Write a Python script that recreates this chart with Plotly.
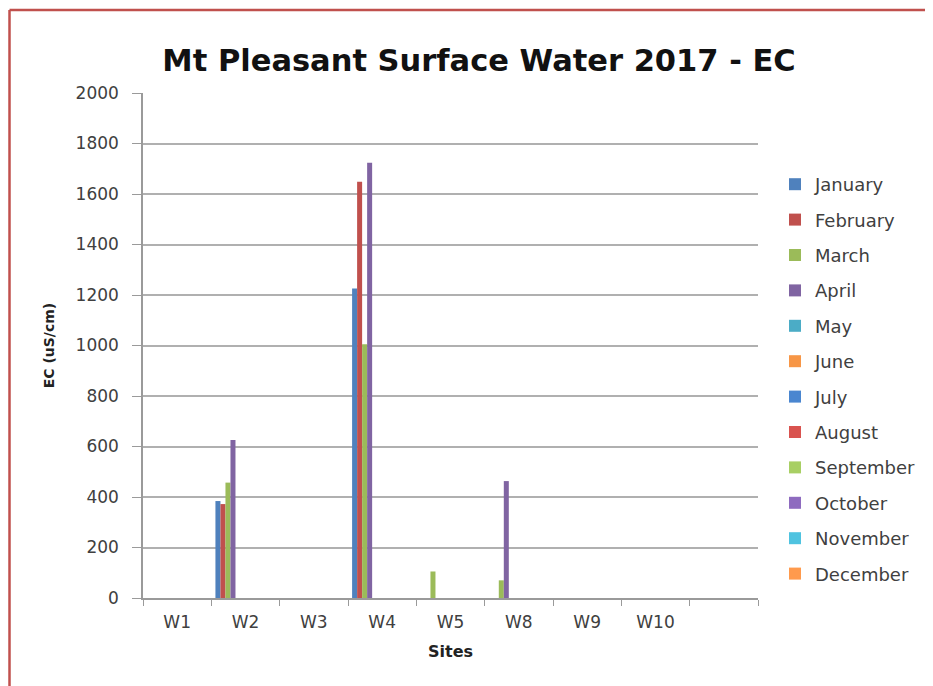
import plotly.graph_objects as go

sites = ["W1", "W2", "W3", "W4", "W5", "W8", "W9", "W10", " "]
months = ["January", "February", "March", "April", "May", "June", "July",
          "August", "September", "October", "November", "December"]
colors = ["#4F81BD", "#C0504D", "#9BBB59", "#8064A2", "#4BACC6", "#F79646",
          "#4A86D0", "#D9534F", "#A8CF64", "#8E6BBF", "#4FC3E0", "#FF9A4D"]

N = None
january  = [N, 384, N, 1226, N, N, N, N, N]
february = [N, 372, N, 1649, N, N, N, N, N]
march    = [N, 457, N, 1005, 105, 70, N, N, N]
april    = [N, 626, N, 1724, N, 463, N, N, N]
empty    = [N] * 9
series = [january, february, march, april] + [empty] * 8

fig = go.Figure()
for i, (m, vals) in enumerate(zip(months, series)):
    fig.add_trace(go.Bar(x=sites, y=vals, name=m, marker_color=colors[i],
                         marker_line_width=0, legendgroup=m))

FONT = "DejaVu Sans, sans-serif"
axis_font = dict(family=FONT, size=17, color="#404040")
W, H = 925, 678
L, R, T, B = 135, 175, 85, 88
pw, ph = W - L - R, H - T - B
fig.update_layout(
    width=W, height=H,
    margin=dict(l=L, r=R, t=T, b=B),
    paper_bgcolor="white", plot_bgcolor="white",
    barmode="group", bargap=0.12, bargroupgap=0,
    title=dict(text="<b>Mt Pleasant Surface Water 2017 - EC</b>",
               font=dict(family=FONT, size=30.5, color="#111111"),
               x=471 / W, xanchor="center", y=1 - 52 / H, yanchor="middle"),
    legend=dict(x=(767 - L) / pw, xanchor="left", y=1 - (158 - T) / ph, yanchor="top",
                font=dict(family=FONT, size=18, color="#404040"),
                tracegroupgap=9, itemwidth=30, bgcolor="rgba(0,0,0,0)"),
    xaxis=dict(type="category", categoryorder="array", categoryarray=sites,
               tickson="boundaries", ticks="outside", ticklen=6, tickcolor="#9A9A9A",
               showline=True, linecolor="#9A9A9A", linewidth=1.5,
               tickfont=axis_font, ticklabelstandoff=8,
               title=dict(text="<b>Sites</b>", standoff=15,
                          font=dict(family=FONT, size=16, color="#222222")),
               showgrid=False),
    yaxis=dict(range=[0, 2000], dtick=200, ticks="outside", ticklen=9, tickcolor="#9A9A9A",
               showline=True, linecolor="#9A9A9A", linewidth=1.5,
               gridcolor="#B0B0B0", gridwidth=1.5,
               tickfont=axis_font, ticklabelstandoff=10,
               zeroline=False,
               title=dict(text="<b>EC (uS/cm)</b>", standoff=18,
                          font=dict(family=FONT, size=14, color="#222222"))),
    shapes=[
        dict(type="line", xref="paper", yref="paper", x0=(1.5 - L) / pw, x1=2,
             y0=1 + (T - 2) / ph, y1=1 + (T - 2) / ph,
             line=dict(color="#C0504D", width=2.5)),
        dict(type="line", xref="paper", yref="paper", x0=(1.5 - L) / pw, x1=(1.5 - L) / pw,
             y0=-1, y1=1 + (T - 2) / ph,
             line=dict(color="#C0504D", width=2.5)),
    ],
)

fig.write_html("out.html")
